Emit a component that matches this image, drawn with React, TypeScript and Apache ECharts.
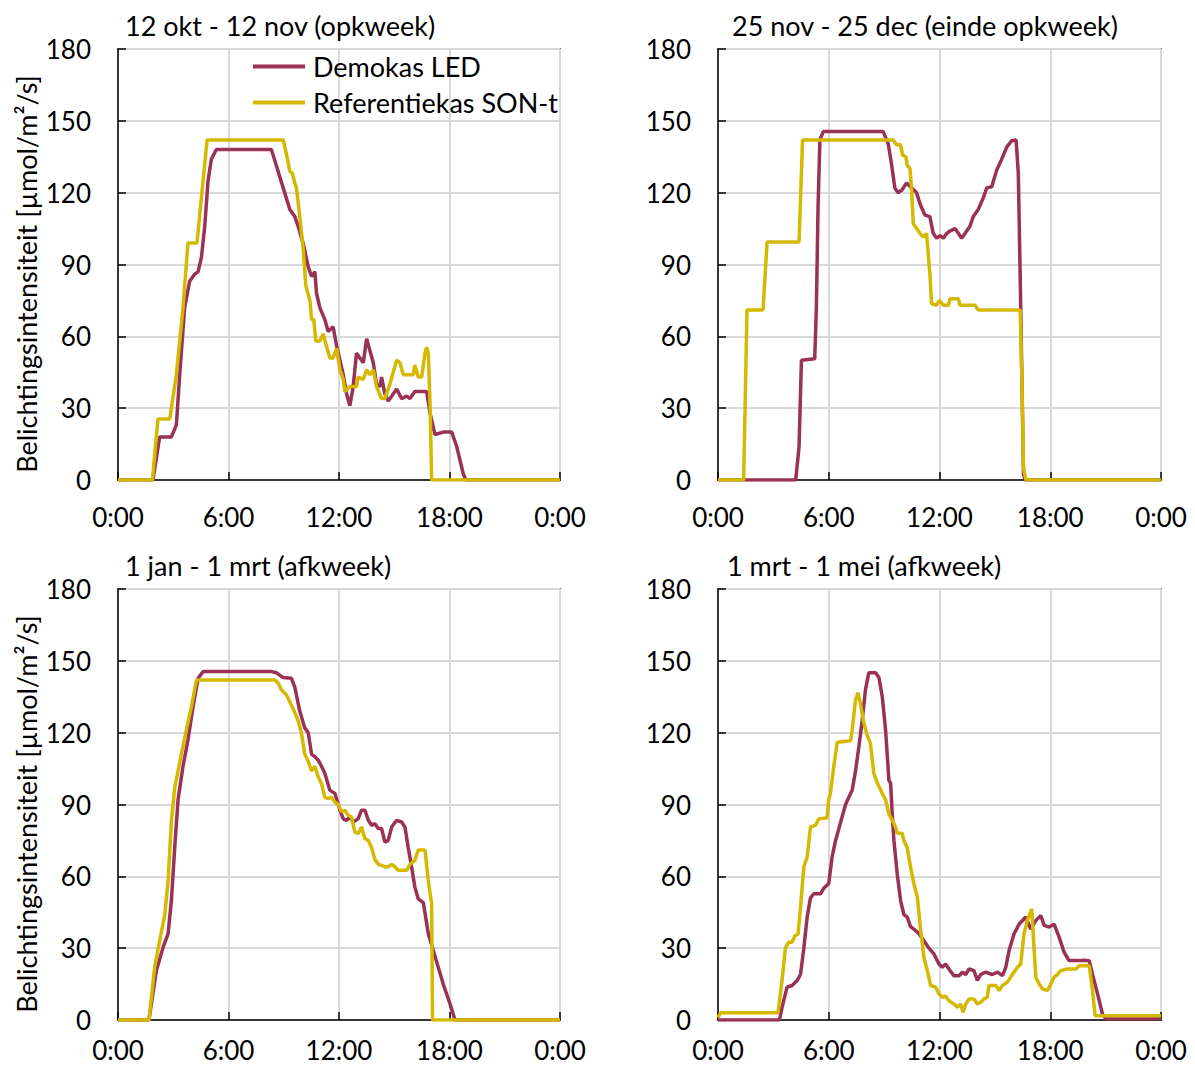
import React, { useEffect, useRef } from "react";
import * as echarts from "echarts";

const seriesNames = ["Demokas LED", "Referentiekas SON-t"];
const panelTitles = [
  "12 okt - 12 nov (opkweek)",
  "25 nov - 25 dec (einde opkweek)",
  "1 jan - 1 mrt (afkweek)",
  "1 mrt - 1 mei (afkweek)",
];
const yAxisTitle = "Belichtingsintensiteit [µmol/m²/s]";
const xTicks = [0, 6, 12, 18, 24];
const yTicks = [0, 30, 60, 90, 120, 150, 180];

// [hour, value]
const p1Led = [[0,0],[1.90,0],[2.26,18],[2.90,18],[3.17,23],[3.35,44],[3.62,72],[3.89,83],[4.17,86],[4.35,87],[4.53,93],[4.71,106],[4.89,125],[5.07,134],[5.34,138],[8.33,138],[8.61,131],[8.97,122],[9.33,113],[9.60,110],[9.78,106],[10.05,99],[10.33,89],[10.51,85],[10.69,87],[10.78,78],[10.96,72],[11.23,67],[11.41,62],[11.68,64],[11.87,56],[12.05,50],[12.23,44],[12.41,36],[12.59,31],[12.77,39],[12.95,53],[13.13,51],[13.32,49],[13.50,59],[13.68,54],[13.86,49],[14.04,40],[14.22,39],[14.31,43],[14.49,36],[14.67,33],[14.86,35],[15.13,38],[15.40,34],[15.67,35],[15.85,34],[16.12,37],[16.39,37],[16.76,37],[16.94,28],[17.21,19],[17.66,20],[18.12,20],[18.39,14],[18.75,2.5],[18.89,0],[24,0]];
const p1Son = [[0,0],[1.87,0],[2.17,25.5],[2.81,25.5],[3.17,44],[3.53,72],[3.80,99],[4.29,99],[4.44,111],[4.62,125],[4.84,142],[8.97,142],[9.15,136],[9.33,129],[9.47,128],[9.60,124],[9.69,122],[9.87,110],[10.05,97],[10.20,81],[10.42,75],[10.51,67],[10.63,67],[10.74,58],[10.96,58],[11.14,61],[11.32,56],[11.50,51],[11.68,51],[11.87,55],[12.05,46],[12.23,42],[12.32,37],[12.59,39],[12.95,39],[13.04,43],[13.32,42],[13.50,46],[13.68,44],[13.86,46],[14.04,39],[14.31,34],[14.49,34],[14.76,40],[15.13,50],[15.31,49],[15.49,44],[15.67,44],[16.03,44],[16.12,48],[16.30,43],[16.49,43],[16.67,53],[16.76,55.5],[16.85,53],[16.94,33],[17.03,0],[24,0]];
const p2Led = [[0,0],[4.21,0],[4.39,13.7],[4.52,50],[5.24,50.6],[5.33,72],[5.42,114],[5.52,142],[5.70,145.5],[8.95,145.5],[9.22,140.5],[9.40,132],[9.58,122],[9.76,120],[9.95,121],[10.22,124],[10.49,122],[10.76,120],[10.94,115.5],[11.21,110.6],[11.48,110],[11.66,103],[11.84,101],[12.03,102],[12.21,101],[12.39,103],[12.57,104],[12.84,105],[13.02,103],[13.20,101],[13.47,104],[13.65,106],[13.83,110],[14.10,113],[14.38,118],[14.56,122],[14.83,122.5],[15.10,129.5],[15.37,134],[15.64,139],[15.91,141.7],[16.15,142],[16.27,128],[16.37,86],[16.46,44],[16.55,2.5],[16.64,0],[24,0]];
const p2Son = [[0,0],[1.39,0],[1.57,71],[2.44,71],[2.66,99.4],[4.39,99.4],[4.58,142],[9.49,142],[9.67,140],[9.89,140],[10.0,135.7],[10.18,135],[10.25,131.5],[10.40,130],[10.49,121],[10.58,107],[10.76,105],[10.94,103],[11.12,101.5],[11.30,103],[11.48,86],[11.57,73.6],[11.84,73],[11.99,75],[12.21,73],[12.48,73],[12.57,75.7],[13.02,75.7],[13.11,73],[13.92,73],[14.10,71],[16.37,71],[16.46,44],[16.55,5],[16.69,0],[24,0]];
const p3Led = [[0,0],[1.68,0],[2.08,20.6],[2.45,30.4],[2.72,36],[2.90,50],[3.08,72],[3.26,92],[3.53,106],[3.80,117],[4.08,131],[4.35,142.7],[4.62,145.5],[8.33,145.5],[8.61,145],[8.97,143],[9.42,142.7],[9.60,139],[9.87,129],[10.14,122],[10.33,120],[10.51,111],[10.69,110],[10.87,108.5],[11.05,106],[11.23,103],[11.50,96],[11.78,94.6],[12.05,87.6],[12.23,84],[12.41,83.4],[12.59,84.8],[12.77,82.7],[13.04,84],[13.22,87.6],[13.41,87.6],[13.59,83.4],[13.77,81.3],[13.95,82],[14.13,80],[14.31,80],[14.49,74.3],[14.67,75],[14.86,80.6],[15.13,83.4],[15.40,82.7],[15.58,80.6],[15.76,72],[15.94,64],[16.12,55.5],[16.30,50.6],[16.58,49],[16.85,36],[17.12,29],[17.39,22],[17.66,15],[18.03,6.7],[18.30,0],[24,0]];
const p3Son = [[0,0],[1.68,0],[1.99,22],[2.26,33],[2.54,44],[2.72,58],[2.90,83],[3.08,97],[3.26,104],[3.44,111],[3.71,121],[3.99,131],[4.26,142],[8.51,142],[8.70,140.6],[8.88,137.8],[9.15,135.7],[9.51,130],[9.78,125],[9.96,120],[10.14,111],[10.33,108],[10.51,104],[10.69,106],[10.87,101.5],[11.05,98.7],[11.23,93],[11.41,92.5],[11.59,93],[11.78,91],[11.96,90],[12.14,87],[12.32,87.6],[12.50,85.5],[12.68,84.8],[12.86,78.5],[13.04,77.8],[13.22,80.6],[13.41,75.7],[13.59,75],[13.77,72],[13.95,67],[14.13,65],[14.31,64.6],[14.49,64],[14.67,64],[14.86,65],[15.04,64],[15.22,62.5],[15.67,62.5],[15.85,65],[16.12,66.7],[16.30,71],[16.67,71],[16.85,58],[17.03,48.5],[17.08,0],[24,0]];
const p4Led = [[0,0],[3.33,0],[3.47,5.3],[3.74,13.7],[4.01,14.4],[4.29,16.5],[4.47,19],[4.65,30],[4.83,43],[5.01,51],[5.19,52.7],[5.55,52.7],[5.73,55],[6.00,57],[6.18,68],[6.37,75],[6.55,80],[6.73,85],[6.91,90],[7.09,93],[7.27,96],[7.45,104],[7.63,114],[7.81,125],[7.99,138],[8.17,145],[8.54,145],[8.72,143],[8.90,135],[9.08,121],[9.26,100],[9.35,99],[9.44,86],[9.53,75],[9.71,61],[9.89,50],[10.07,44],[10.25,43],[10.43,39],[10.70,37.4],[10.89,36],[11.16,33],[11.43,30],[11.70,27.6],[11.97,23.4],[12.15,22],[12.33,23.4],[12.51,21.3],[12.78,18.5],[13.06,18.5],[13.24,20],[13.42,19],[13.60,21.3],[13.87,20.6],[14.05,16.5],[14.23,19],[14.50,20],[14.86,19],[15.14,20],[15.41,18.5],[15.59,22],[15.77,29],[16.04,36],[16.31,40],[16.67,43],[16.94,38],[17.22,41.6],[17.49,43.6],[17.67,39.5],[17.94,38.8],[18.21,40],[18.48,34.6],[18.75,28.3],[19.02,24.8],[19.57,24.8],[19.84,25],[20.11,24.8],[20.29,19],[20.56,11],[20.83,2.5],[21.01,0.5],[24,0.5]];
const p4Son = [[0,1],[0.13,3],[3.25,3],[3.47,16.5],[3.65,30],[3.83,32.5],[4.01,32.5],[4.16,35],[4.34,36],[4.47,47],[4.65,64],[4.83,68],[5.01,80.6],[5.28,81.3],[5.46,84],[5.91,84.5],[6.00,92],[6.09,94.6],[6.27,105.7],[6.46,116],[7.18,116.6],[7.27,121],[7.45,133.6],[7.58,136.7],[7.72,132],[7.90,124],[8.08,119],[8.26,115.5],[8.44,103],[8.63,99],[8.90,94.6],[9.08,92],[9.26,86],[9.44,83.4],[9.62,80.6],[9.71,78],[9.98,78],[10.07,75],[10.25,72],[10.43,64],[10.61,57],[10.80,51.3],[10.98,37.4],[11.16,26],[11.34,20.6],[11.52,14.4],[11.79,13.7],[11.97,11],[12.15,9.5],[12.33,10],[12.51,8],[12.78,6.7],[12.97,5.3],[13.15,6.7],[13.27,3.2],[13.42,6.7],[13.60,8.8],[13.87,8.8],[14.05,6.7],[14.23,7.4],[14.41,8.8],[14.59,9.5],[14.68,14.4],[15.05,14.4],[15.23,12.3],[15.41,14.4],[15.68,15.8],[15.95,19],[16.22,22],[16.40,23.4],[16.58,36],[16.76,41.6],[17.00,46.4],[17.12,30],[17.22,17.9],[17.40,15],[17.58,13],[17.85,12.3],[18.03,15],[18.21,17.9],[18.39,19],[18.57,20.6],[18.93,21.3],[19.39,21.3],[19.57,22.7],[20.11,22.7],[20.29,12.3],[20.43,1.8],[24,1.8]];

const ledPanels = [p1Led, p2Led, p3Led, p4Led];
const sonPanels = [p1Son, p2Son, p3Son, p4Son];

const LED_COLOR = "#9a3156";
const SON_COLOR = "#d4b900";
const FONT = "Lato";
const FS = 27;
const TICK_FS = 26;

export default function App() {
  const ref = useRef<HTMLDivElement>(null);
  useEffect(() => {
    if (!ref.current) return;
    const chart = echarts.init(ref.current, null, { renderer: "svg" });
    const grids = [
      { left: 118, top: 49, width: 442, height: 431 },
      { left: 718, top: 49, width: 443, height: 431 },
      { left: 118, top: 589, width: 442, height: 431 },
      { left: 718, top: 589, width: 443, height: 431 },
    ];
    const titlePos = [
      { left: 125, top: 12 },
      { left: 732, top: 12 },
      { left: 125, top: 552 },
      { left: 727, top: 552 },
    ];
    const series: any[] = [];
    for (let i = 0; i < 4; i++) {
      series.push({
        name: seriesNames[0],
        type: "line",
        xAxisIndex: i,
        yAxisIndex: i,
        data: ledPanels[i],
        showSymbol: false,
        lineStyle: { color: LED_COLOR, width: 3.5 },
        itemStyle: { color: LED_COLOR },
      });
      series.push({
        name: seriesNames[1],
        type: "line",
        xAxisIndex: i,
        yAxisIndex: i,
        data: sonPanels[i],
        showSymbol: false,
        lineStyle: { color: SON_COLOR, width: 3.5 },
        itemStyle: { color: SON_COLOR },
      });
    }
    chart.setOption({
      animation: false,
      backgroundColor: "#fff",
      textStyle: { fontFamily: FONT },
      title: panelTitles.map((t, i) => ({
        text: t,
        left: titlePos[i].left,
        top: titlePos[i].top,
        padding: 0,
        textStyle: { fontFamily: FONT, fontSize: FS, fontWeight: "normal", color: "#000" },
      })),
      legend: {
        data: seriesNames.map((n, i) => ({
          name: n,
          icon: "rect",
          itemStyle: { color: i === 0 ? LED_COLOR : SON_COLOR },
        })),
        orient: "vertical",
        left: 253,
        top: 53,
        padding: 0,
        itemWidth: 52,
        itemHeight: 4,
        itemGap: 9,
        textStyle: { fontFamily: FONT, fontSize: FS, color: "#000", padding: [0, 0, 0, 3] },
      },
      grid: grids.map((g) => ({ ...g, show: true, borderColor: "#000", borderWidth: 1.5, backgroundColor: "transparent" })),
      xAxis: grids.map((_, i) => ({
        type: "value",
        gridIndex: i,
        min: 0,
        max: 24,
        interval: 6,
        axisLine: { show: true, lineStyle: { color: "#000", width: 1.5 } },
        axisTick: { show: true, inside: true, length: 8, lineStyle: { color: "#000", width: 1.5 } },
        splitLine: { show: true, lineStyle: { color: "#d9d9d9", width: 2 } },
        axisLabel: {
          margin: i < 2 ? 24 : 17,
          fontFamily: FONT,
          fontSize: TICK_FS,
          color: "#000",
          formatter: (v: number) => (xTicks.includes(v) ? `${v % 24}:00` : ""),
        },
      })),
      yAxis: grids.map((_, i) => ({
        type: "value",
        gridIndex: i,
        min: 0,
        max: 180,
        interval: 30,
        axisLine: { show: true, lineStyle: { color: "#000", width: 1.5 } },
        axisTick: { show: true, inside: true, length: 8, lineStyle: { color: "#000", width: 1.5 } },
        splitLine: { show: true, lineStyle: { color: "#d9d9d9", width: 2 } },
        axisLabel: {
          margin: 27,
          fontFamily: FONT,
          fontSize: TICK_FS,
          color: "#000",
          formatter: (v: number) => (yTicks.includes(v) ? String(v) : ""),
        },
      })),
      graphic: [
        {
          type: "text",
          x: 26,
          y: 274,
          rotation: Math.PI / 2,
          style: { text: yAxisTitle, font: `${FS}px ${FONT}`, fill: "#000", align: "center", verticalAlign: "middle" },
        },
        {
          type: "text",
          x: 26,
          y: 814,
          rotation: Math.PI / 2,
          style: { text: yAxisTitle, font: `${FS}px ${FONT}`, fill: "#000", align: "center", verticalAlign: "middle" },
        },
      ],
      series,
    });
    return () => chart.dispose();
  }, []);
  return <div ref={ref} style={{ position: "fixed", left: 0, top: 0, width: 1195, height: 1068 }} />;
}
